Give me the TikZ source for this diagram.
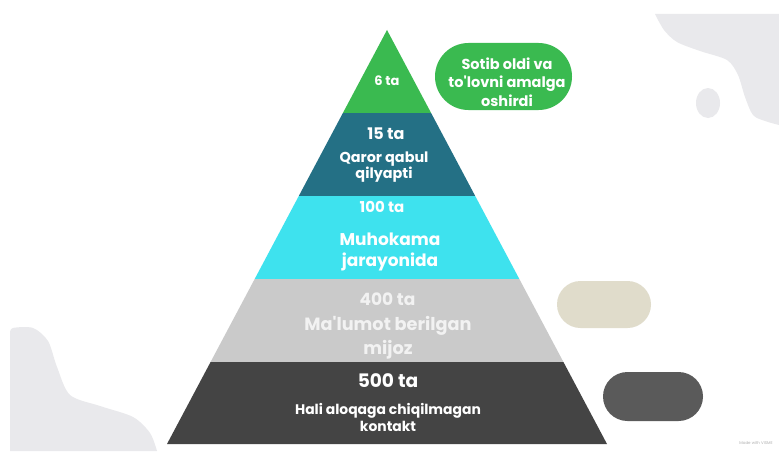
\documentclass[tikz,border=0pt]{standalone}
\usepackage{fontspec}
\setmainfont{Poppins}
\usetikzlibrary{positioning}

\definecolor{bandGreen}{RGB}{58,186,80}
\definecolor{bandTeal}{RGB}{36,112,133}
\definecolor{bandCyan}{RGB}{62,226,238}
\definecolor{bandGray}{RGB}{202,202,202}
\definecolor{bandDark}{RGB}{68,68,68}
\definecolor{pillBeige}{RGB}{224,220,203}
\definecolor{pillDark}{RGB}{90,90,90}
\definecolor{blobColor}{RGB}{233,233,236}
\definecolor{textGray}{RGB}{242,242,242}

\tikzset{
  count/.style={text=white,inner sep=0pt,outer sep=0pt,font=\bfseries\fontsize{#1}{#1}\selectfont},
  bandtext/.style 2 args={text=white,inner sep=0pt,outer sep=0pt,align=center,font=\bfseries\fontsize{#1}{#2}\selectfont},
  pill/.style={inner sep=0pt,outer sep=0pt,text=white,align=center}
}

\begin{document}
\begin{tikzpicture}[x=1pt,y=1pt]
\path[use as bounding box,fill=white] (0,0) rectangle (779,451);

\path[fill=blobColor] (655,437) -- (779,437) --
  plot[smooth] coordinates {(779,326) (765,330) (753,336) (745,354) (738,376) (727,391) (700,400) (677,409) (664,421) (655,437)} -- cycle;
\path[fill=blobColor] (708,348) ellipse (12 and 15);
\path[fill=blobColor] (10,0) --
  plot[smooth] coordinates {(10,118) (13,123) (33,123) (48,110) (57,84) (70,56) (100,45) (133,34) (150,18) (157,0)} -- cycle;

\foreach \yt/\yb/\col in {421/338/bandGreen,338/255/bandTeal,255/172/bandCyan,172/89/bandGray,89/7/bandDark}
  \path[fill=\col] ({387-(421-\yt)*0.5314},\yt) -- ({387+(421-\yt)*0.5314},\yt)
    -- ({387+(421-\yb)*0.5314},\yb) -- ({387-(421-\yb)*0.5314},\yb) -- cycle;

\node[count=13] (c6) at (387,370) {6 ta};
\node[count=16] (c15) at (386,317) {15 ta};
\node[bandtext={14.4}{16}] (qaror) at (384,284) {Qaror qabul\\qilyapti};
\node[count=15] (c100) at (382,244) {100 ta};
\node[bandtext={17}{21}] (muhokama) at (390,199) {Muhokama\\jarayonida};
\node[count=17,text=textGray] (c400) at (387.5,152) {400 ta};
\node[bandtext={17.7}{24},text=textGray] (malumot) at (388,113) {Ma\textquotesingle lumot berilgan\\mijoz};
\node[count=18.6] (c500) at (388,70) {500 ta};
\node[bandtext={13.9}{17}] (hali) at (388,34) {Hali aloqaga chiqilmagan\\kontakt};

\node[pill,fill=bandGreen,minimum width=137pt,minimum height=67pt,rounded corners=33.5pt] (buyPill) at (503.5,374.5) {};
\node[pill,font=\bfseries\fontsize{14.5}{18.5}\selectfont] (buyText) at (507,369) {Sotib oldi va\\to\textquotesingle lovni amalga\\oshirdi};
\node[pill,fill=pillBeige,minimum width=94pt,minimum height=47pt,rounded corners=23.5pt] (beigePill) at (604,146.5) {};
\node[pill,fill=pillDark,minimum width=100pt,minimum height=49pt,rounded corners=24.5pt] (darkPill) at (653,54.5) {};

\node[text=gray!60,font=\fontsize{4}{4}\selectfont,inner sep=0pt] (visme) at (756,8) {Made with VISME};
\end{tikzpicture}
\end{document}
